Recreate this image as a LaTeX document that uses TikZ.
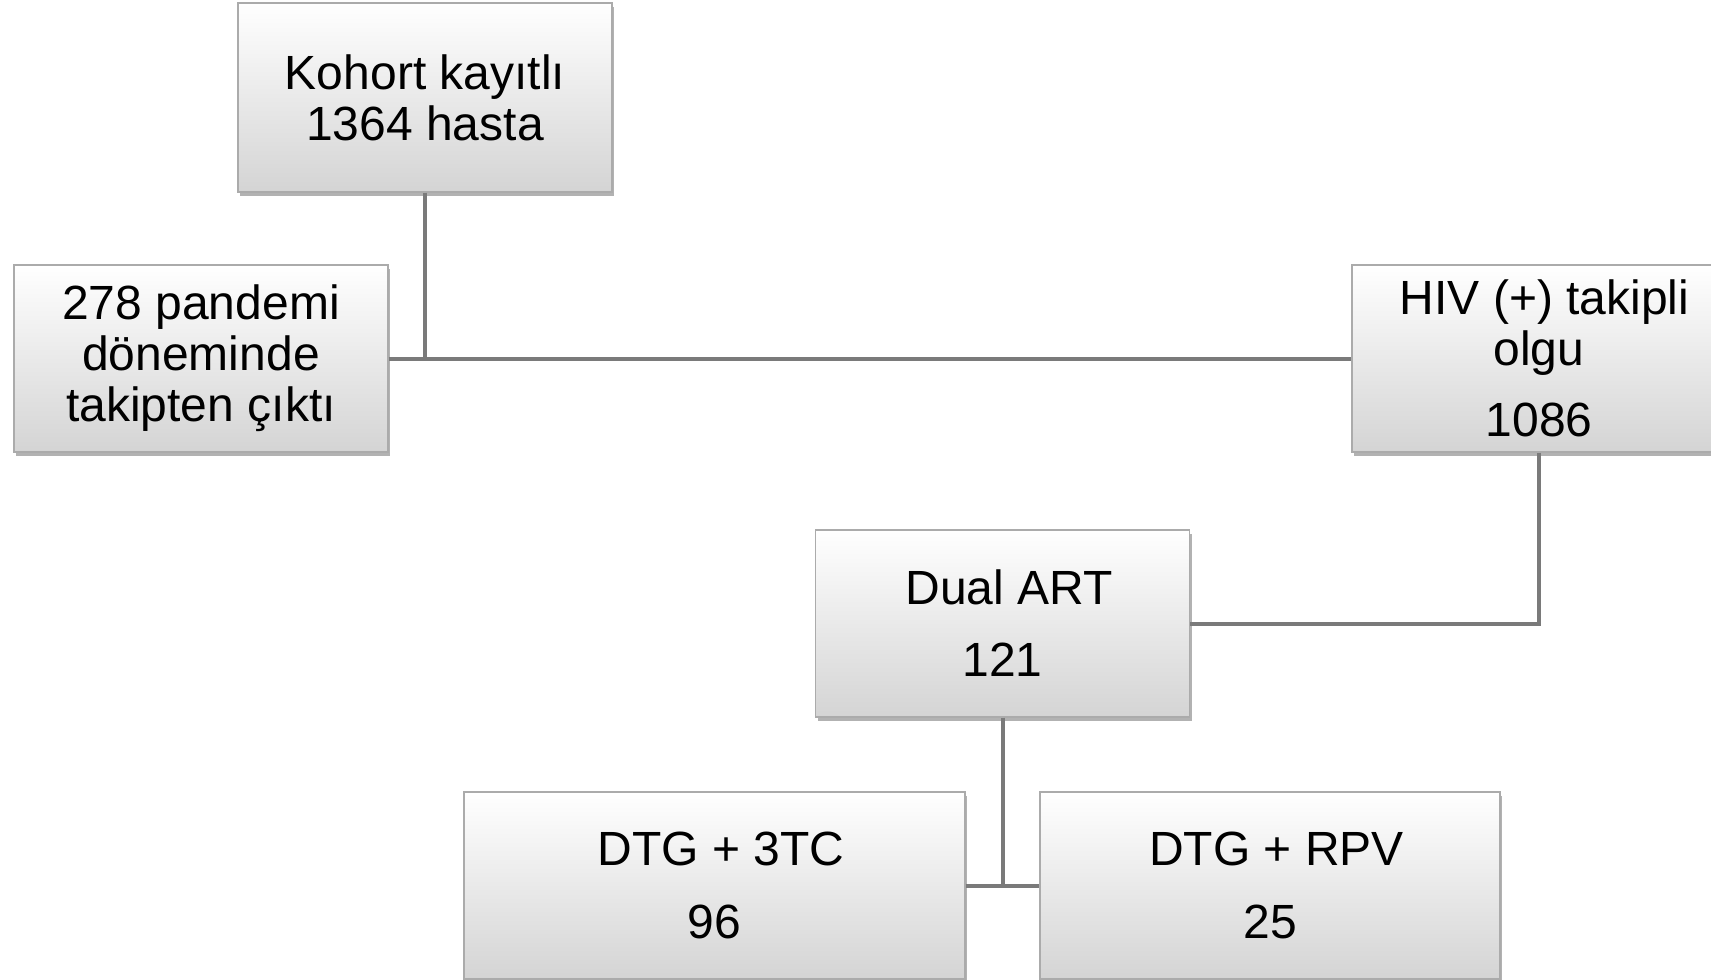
\documentclass[tikz,border=0pt]{standalone}
\usepackage{fontspec}
\setmainfont{Liberation Sans}
\usetikzlibrary{shadows}
\definecolor{linegray}{HTML}{7A7A7A}
\definecolor{boxborder}{HTML}{ABABAB}
\definecolor{boxbottom}{HTML}{D4D4D4}
\tikzset{
  flowbox/.style={rectangle, draw=boxborder, line width=0.6pt,
    top color=white, bottom color=boxbottom,
    minimum width=187pt, minimum height=93.5pt, inner sep=0pt,
    align=center, font=\fontsize{24}{25.5}\selectfont,
    drop shadow={shadow xshift=1.2pt, shadow yshift=-2pt, opacity=0.3, fill=black}},
  link/.style={draw=linegray, line width=2pt}
}
\begin{document}
\begin{tikzpicture}[x=0.5pt,y=-0.5pt]
\useasboundingbox (0,0) rectangle (1711,979);
\clip (0,0) rectangle (1711,979);
\node[flowbox, minimum height=94.5pt] (k) at (425,97.5) {Kohort kayıtlı\\1364 hasta};
\node[flowbox] (p) at (201,358.5) {278 pandemi\\döneminde\\takipten çıktı};
\node[flowbox] (h) at (1539,358.5) {\hspace*{5.5pt}HIV (+) takipli\\olgu\\[10pt]1086};
\node[flowbox] (d) at (1002.5,623.5) {\hspace*{6.5pt}Dual ART\\[10.5pt]121};
\node[flowbox, minimum width=250.5pt] (a) at (714.5,885.5) {\hspace*{6.5pt}DTG + 3TC\\[11pt]96};
\node[flowbox, minimum width=230pt] (b) at (1270,885.5) {\hspace*{6.5pt}DTG + RPV\\[11pt]25};
\draw[link] (k.south) -- (k.south |- p.east);
\draw[link] (p.east) -- (h.west);
\draw[link] (h.south) |- (d.east);
\draw[link] (d.south) -- (d.south |- a.east);
\draw[link] (a.east) -- (b.west);
\end{tikzpicture}
\end{document}
